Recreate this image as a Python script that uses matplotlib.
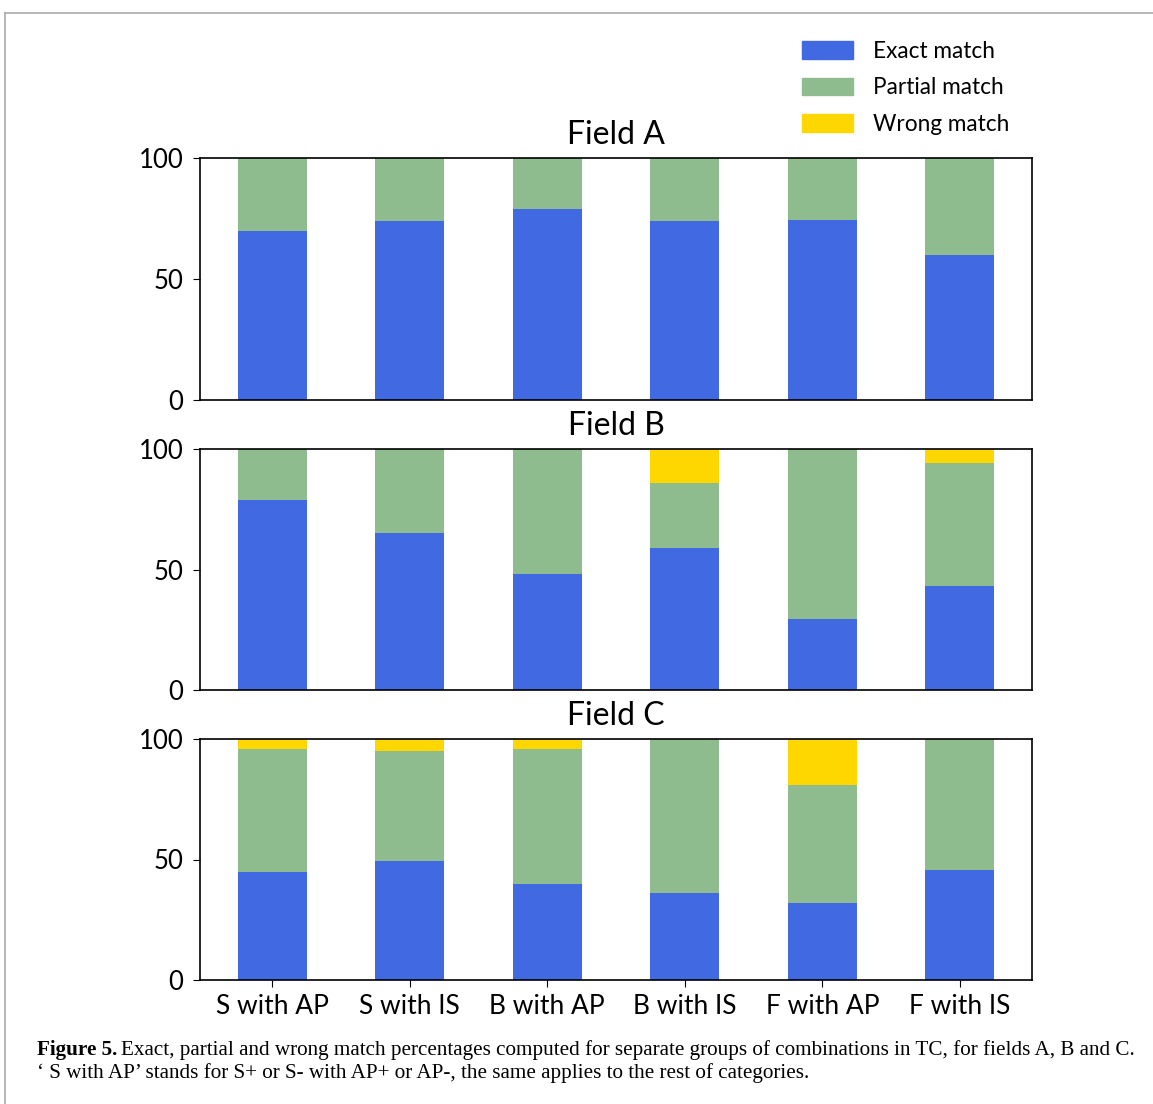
import matplotlib
matplotlib.use('Agg')
import matplotlib.pyplot as plt
from matplotlib.patches import Patch
from matplotlib.lines import Line2D

categories = ['S with AP', 'S with IS', 'B with AP', 'B with IS', 'F with AP', 'F with IS']
fields = ['Field A', 'Field B', 'Field C']

# percentages per field: exact, partial, wrong
exact = [
    [70, 74, 79, 74, 74.5, 60],
    [79, 65, 48, 59, 29.5, 43],
    [45, 49.5, 40, 36, 32, 45.5],
]
partial = [
    [30, 26, 21, 26, 25.5, 40],
    [21, 35, 52, 27, 70.5, 51],
    [51, 45.5, 56, 64, 49, 54.5],
]
wrong = [
    [0, 0, 0, 0, 0, 0],
    [0, 0, 0, 14, 0, 6],
    [4, 5, 4, 0, 19, 0],
]

c_exact = '#4169E1'
c_partial = '#8FBC8F'
c_wrong = '#FFD700'

plt.rcParams['font.family'] = ['Lato', 'DejaVu Sans']

W, H = 1153, 1104
fig = plt.figure(figsize=(W / 100, H / 100), dpi=100)

# axes boxes in pixels: (top, bottom)
boxes = [(158, 400), (449, 690), (739, 980)]
x = list(range(len(categories)))
for i, (top, bot) in enumerate(boxes):
    ax = fig.add_axes([200 / W, 1 - bot / H, 832 / W, (bot - top) / H])
    e, p, w = exact[i], partial[i], wrong[i]
    ax.bar(x, e, width=0.5, color=c_exact)
    ax.bar(x, p, width=0.5, bottom=e, color=c_partial)
    ax.bar(x, w, width=0.5, bottom=[a + b for a, b in zip(e, p)], color=c_wrong)
    ax.set_ylim(0, 100)
    ax.set_yticks([0, 50, 100])
    ax.tick_params(axis='y', labelsize=18.5, length=5, pad=7)
    ax.set_title(fields[i], fontsize=23, pad=10)
    if i < 2:
        ax.set_xticks([])
    else:
        ax.set_xticks(x)
        ax.set_xticklabels(categories, fontsize=19)
        ax.tick_params(axis='x', length=5, pad=5)
    for s in ax.spines.values():
        s.set_linewidth(1.2)

handles = [Patch(color=c_exact), Patch(color=c_partial), Patch(color=c_wrong)]
fig.legend(handles, ['Exact match', 'Partial match', 'Wrong match'],
           loc='upper left', bbox_to_anchor=(802 / W, 1 - 41 / H),
           frameon=False, fontsize=16.3, handlelength=2.25, handleheight=0.8,
           handletextpad=0.9, labelspacing=0.68, borderpad=0, borderaxespad=0)

# caption
serif = ['Liberation Serif', 'DejaVu Serif']
t1 = fig.text(37 / W, 1 - 1050 / H, 'Figure 5.', fontsize=15.2, fontweight='bold',
              family=serif, va='center')
fig.canvas.draw()
bb = t1.get_window_extent()
fig.text(bb.x1 / W + 4 / W, 1 - 1050 / H,
         'Exact, partial and wrong match percentages computed for separate groups of combinations in TC, for fields A, B and C.',
         fontsize=15.2, family=serif, va='center')
fig.text(37 / W, 1 - 1073 / H,
         '\u2018 S with AP\u2019 stands for S+ or S- with AP+ or AP-, the same applies to the rest of categories.',
         fontsize=15.2, family=serif, va='center')

# page frame
fig.add_artist(Line2D([5 / W, 1], [1 - 13 / H, 1 - 13 / H], color='#aaaaaa', lw=1.2))
fig.add_artist(Line2D([5 / W, 5 / W], [0, 1 - 13 / H], color='#aaaaaa', lw=1.2))

fig.savefig('out.png', dpi=100)
